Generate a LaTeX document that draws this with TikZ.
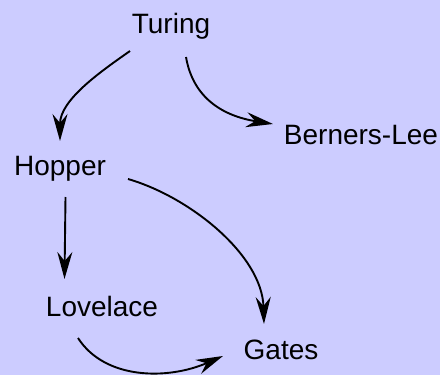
\documentclass[tikz,border=0pt]{standalone}
\usepackage{fontspec}
\setmainfont{Liberation Sans}
\usetikzlibrary{arrows.meta}
\definecolor{bgpanel}{HTML}{CCCCFF}
\tikzset{
  person/.style={anchor=base, inner sep=0pt, font=\fontsize{28}{31}\selectfont},
  link/.style={line width=1.9pt, -{Stealth[length=27pt, width=15pt, inset=9pt]}},
}
\begin{document}
\begin{tikzpicture}[x=1pt, y=-1pt]
  % canvas
  \fill[bgpanel] (0,0) rectangle (440,375);
  \useasboundingbox (0,0) rectangle (440,375);

  % people (placed by baseline)
  \node[person] (turing)   at (171,33)  {Turing};
  \node[person] (berners)  at (361,144) {Berners-Lee};
  \node[person] (hopper)   at (60,175)  {Hopper};
  \node[person] (lovelace) at (102,316) {Lovelace};
  \node[person] (gates)    at (281,359) {Gates};

  % influence links
  \draw[link] ([shift={(-41,18)}]turing.base)
    .. controls ([shift={(-71,39)}]turing.base) and ([shift={(0,-75)}]hopper.base)
    .. ([shift={(0,-34)}]hopper.base);
  \draw[link] ([shift={(15,24)}]turing.base)
    .. controls ([shift={(22,65)}]turing.base) and ([shift={(-138,-28)}]berners.base)
    .. ([shift={(-88,-20)}]berners.base);
  \draw[link] ([shift={(5.5,22)}]hopper.base) -- ([shift={(-37.5,-37)}]lovelace.base);
  \draw[link] ([shift={(68,4)}]hopper.base)
    .. controls ([shift={(130,22)}]hopper.base) and ([shift={(-19,-104)}]gates.base)
    .. ([shift={(-17,-35)}]gates.base);
  \draw[link] ([shift={(-24,22)}]lovelace.base)
    .. controls ([shift={(3,64)}]lovelace.base) and ([shift={(-113,21)}]gates.base)
    .. ([shift={(-58,-3)}]gates.base);
\end{tikzpicture}
\end{document}
